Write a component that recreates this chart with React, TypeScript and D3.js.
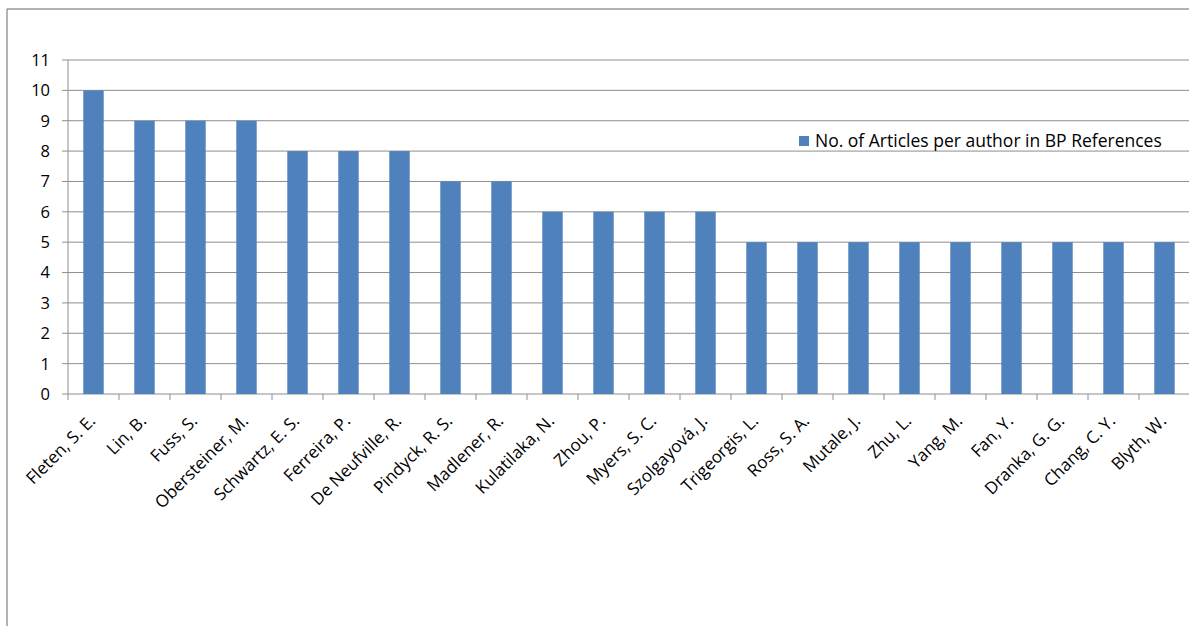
import React from "react";
import * as d3 from "d3";

const authors: string[] = [
  "Fleten, S. E.", "Lin, B.", "Fuss, S.", "Obersteiner, M.", "Schwartz, E. S.",
  "Ferreira, P.", "De Neufville, R.", "Pindyck, R. S.", "Madlener, R.", "Kulatilaka, N.",
  "Zhou, P.", "Myers, S. C.", "Szolgayová, J.", "Trigeorgis, L.", "Ross, S. A.",
  "Mutale, J.", "Zhu, L.", "Yang, M.", "Fan, Y.", "Dranka, G. G.", "Chang, C. Y.", "Blyth, W.",
];
const articles: number[] = [10, 9, 9, 9, 8, 8, 8, 7, 7, 6, 6, 6, 6, 5, 5, 5, 5, 5, 5, 5, 5, 5];
const yTicks: number[] = [0, 1, 2, 3, 4, 5, 6, 7, 8, 9, 10, 11];
const seriesName = "No. of Articles per author in BP References";

const W = 1189;
const H = 626;
const FONT = "'Open Sans', sans-serif";
const BAR = "#4F81BD";
const GRID = "#8E8E8E";

export default function App() {
  const left = 68;
  const right = 1190;
  const top = 60;
  const bottom = 394;

  const x = d3.scaleBand<string>().domain(authors).range([left, right]).paddingInner(0.6).paddingOuter(0.3);
  const step = x.step();
  const y = d3.scaleLinear().domain([0, 11]).range([bottom, top]);

  const tickXs = d3.range(authors.length + 1).map((i) => left + i * step);

  return (
    <svg width={W} height={H} style={{ position: "absolute", left: 0, top: 0, background: "#fff" }}>
      <rect x={0} y={0} width={W} height={H} fill="#fff" />
      {/* outer chart border */}
      <line x1={7} y1={9} x2={W} y2={9} stroke="#9a9a9a" strokeWidth={1.5} />
      <line x1={7} y1={9} x2={7} y2={H} stroke="#9a9a9a" strokeWidth={1.5} />

      {/* gridlines */}
      {yTicks.map((t) => (
        <line key={"g" + t} x1={left - 6} x2={right} y1={y(t)} y2={y(t)} stroke={GRID} strokeWidth={1} />
      ))}
      {/* y axis */}
      <line x1={left} x2={left} y1={top} y2={bottom} stroke={GRID} strokeWidth={1} />
      {yTicks.map((t) => (
        <text key={"yl" + t} x={50} y={y(t)} dy="0.36em" textAnchor="end" fontFamily={FONT} fontSize={16.5} fill="#000">
          {t}
        </text>
      ))}

      {/* bars */}
      {authors.map((a, i) => (
        <rect key={"b" + a} x={x(a)!} y={y(articles[i])} width={x.bandwidth()} height={bottom - y(articles[i])} fill={BAR} />
      ))}

      {/* x axis ticks */}
      {tickXs.map((tx, i) => (
        <line key={"xt" + i} x1={tx} x2={tx} y1={bottom} y2={bottom + 6} stroke={GRID} strokeWidth={1} />
      ))}

      {/* x labels */}
      {authors.map((a) => {
        const cx = x(a)! + x.bandwidth() / 2;
        return (
          <text
            key={"xl" + a}
            transform={`translate(${cx + 3},${bottom + 28}) rotate(-45)`}
            textAnchor="end"
            fontFamily={FONT}
            fontSize={17}
            fill="#000"
          >
            {a}
          </text>
        );
      })}

      {/* legend */}
      <rect x={799} y={136} width={10} height={10} fill={BAR} />
      <text x={815} y={141} dy="0.36em" fontFamily={FONT} fontSize={17.5} fill="#000">
        {seriesName}
      </text>
    </svg>
  );
}
